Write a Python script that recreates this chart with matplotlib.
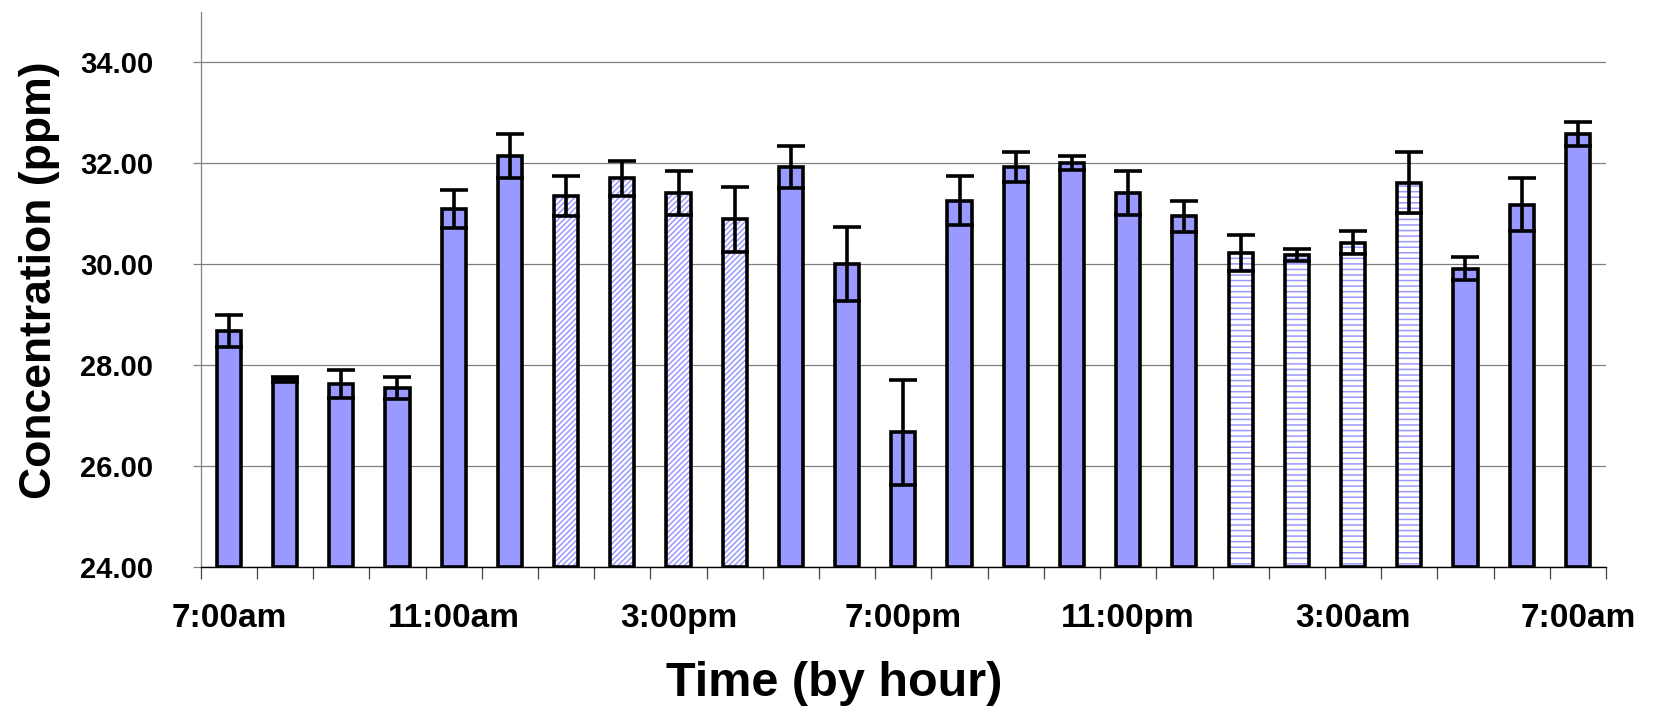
import numpy as np
from matplotlib import pyplot as plt
from matplotlib.ticker import FixedLocator, FormatStrFormatter

# hourly concentration, 7:00am to 7:00am next day
hours = ["7:00am", "8:00am", "9:00am", "10:00am", "11:00am", "12:00pm",
         "1:00pm", "2:00pm", "3:00pm", "4:00pm", "5:00pm", "6:00pm",
         "7:00pm", "8:00pm", "9:00pm", "10:00pm", "11:00pm", "12:00am",
         "1:00am", "2:00am", "3:00am", "4:00am", "5:00am", "6:00am", "7:00am"]
conc = [28.68, 27.72, 27.63, 27.55, 31.10, 32.14, 31.35, 31.70, 31.41, 30.89,
        31.93, 30.01, 26.67, 31.26, 31.93, 32.00, 31.41, 30.95, 30.22, 30.18,
        30.43, 31.62, 29.91, 31.18, 32.58]
err = [0.31, 0.05, 0.28, 0.22, 0.38, 0.44, 0.40, 0.34, 0.44, 0.65,
       0.42, 0.73, 1.03, 0.48, 0.30, 0.14, 0.44, 0.31, 0.36, 0.12,
       0.23, 0.61, 0.23, 0.52, 0.23]
# fill style per bar: "solid", "diag" (afternoon) or "horiz" (night)
style = ["solid"] * 6 + ["diag"] * 4 + ["solid"] * 8 + ["horiz"] * 4 + ["solid"] * 3
label_every = 4

blue = "#9999FF"
plt.rcParams['font.family'] = ['Liberation Sans', 'DejaVu Sans']
plt.rcParams['font.weight'] = 'bold'
plt.rcParams['hatch.linewidth'] = 1.1

fig = plt.figure(figsize=(16.56, 7.08), dpi=100)
ax = fig.add_axes([0.1212, 0.1987, 0.9698 - 0.1212, 0.9833 - 0.1987])

x = np.arange(len(conc))
w = 0.43
lw = 2.6
for i in x:
    if style[i] == "solid":
        ax.bar(i, conc[i] - 24, bottom=24, width=w, color=blue,
               edgecolor="black", linewidth=lw, zorder=2)
    else:
        h = "//////" if style[i] == "diag" else "---"
        ax.bar(i, conc[i] - 24, bottom=24, width=w, color="white",
               edgecolor=blue, hatch=h, linewidth=0, zorder=2)
        ax.bar(i, conc[i] - 24, bottom=24, width=w, fill=False,
               edgecolor="black", linewidth=lw, zorder=2.1)

ax.errorbar(x, conc, yerr=err, fmt="none", ecolor="black", elinewidth=lw,
            capsize=10, capthick=lw, zorder=3)

ax.set_xlim(-0.5, len(conc) - 0.5)
ax.set_ylim(24, 35)
ax.set_yticks(np.arange(24, 35, 2))
ax.yaxis.set_major_formatter(FormatStrFormatter('%.2f'))
ax.yaxis.grid(True, color="#808080", linewidth=0.9)
ax.set_axisbelow(True)

ax.set_xticks(x[::label_every])
ax.set_xticklabels(hours[::label_every])
ax.xaxis.set_minor_locator(FixedLocator(np.arange(-0.5, len(conc), 1)))
ax.tick_params(axis="x", which="major", length=0, pad=26, labelsize=24)
ax.tick_params(axis="x", which="minor", length=8.5, width=0.9, color="#444444")
ax.tick_params(axis="y", length=6, width=0.9, color="#808080", pad=28, labelsize=21)

for s in ["top", "right"]:
    ax.spines[s].set_visible(False)
ax.spines["left"].set_color("#808080")
ax.spines["left"].set_linewidth(0.9)
ax.spines["bottom"].set_color("black")
ax.spines["bottom"].set_linewidth(1)

ax.set_xlabel("Time (by hour)", fontsize=35, fontweight="bold")
ax.xaxis.set_label_coords(0.451, -0.168)
ax.set_ylabel("Concentration (ppm)", fontsize=32, fontweight="bold")
ax.yaxis.set_label_coords(-0.10, 0.517)

fig.savefig("out.png", dpi=100)
